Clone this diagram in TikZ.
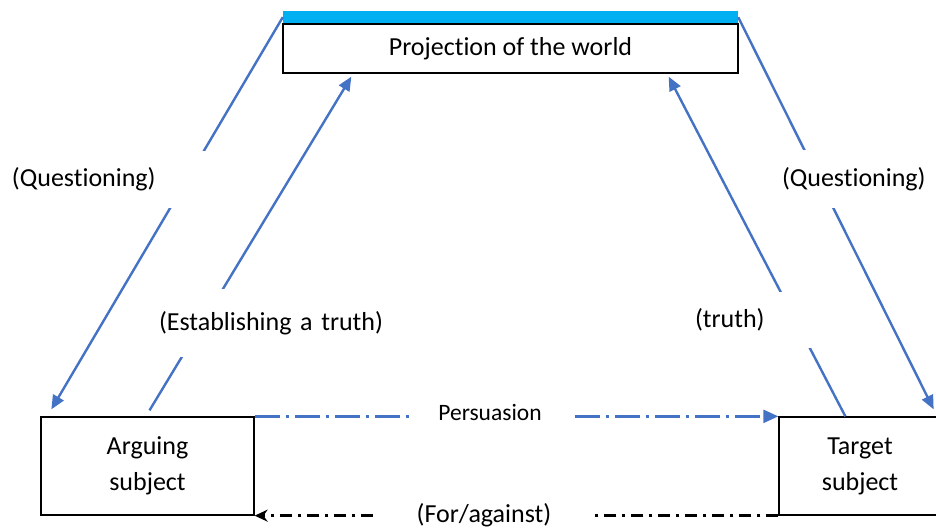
\documentclass[tikz,border=0pt]{standalone}
\usepackage{fontspec}
\setmainfont{Carlito}[Ligatures={NoCommon}]
\usetikzlibrary{arrows.meta}
\definecolor{linkblue}{RGB}{68,114,196}
\definecolor{barblue}{RGB}{0,176,240}

\begin{document}
\begin{tikzpicture}[x=1pt, y=1pt,
    every node/.style={font=\fontsize{26}{36}\selectfont},
    box/.style={draw=black, line width=1.3pt, fill=white, align=center, inner sep=0pt},
    link/.style={draw=linkblue, line width=2.4pt, -{Triangle[length=14pt, width=12pt]}},
    lbl/.style={fill=white, inner sep=4pt, align=left}]
  \useasboundingbox (0,0) rectangle (936,528);
  \fill[white] (0,0) rectangle (936,528);

  % the three boxes
  \node[box, minimum width=455pt, minimum height=49pt] (world) at (510.5,479.5) {Projection of the world};
  \node[fill=barblue, inner sep=0pt, minimum width=455pt, minimum height=12pt, anchor=south] (bar) at (world.north) {};
  \node[box, minimum width=213pt, minimum height=98pt] (arg) at (147.5,62) {Arguing\\subject};
  \node[box, minimum width=162pt, minimum height=98pt] (tgt) at (860,62) {Target\\subject};

  % links to and from the world
  \draw[link] (bar.west) -- ([shift={(11,7)}]arg.north west);
  \draw[link] ([shift={(2,6)}]arg.north) -- ([shift={(69,-3)}]world.south west);
  \draw[link] ([shift={(67,0)}]tgt.north west) -- ([shift={(-70,-3)}]world.south east);
  \draw[link] (bar.east) -- ([shift={(-8,7)}]tgt.north east);

  % links between the subjects
  \draw[linkblue, line width=2.4pt, dash pattern=on 25pt off 6pt on 3pt off 6pt,
        -{Triangle[length=15pt, width=13pt]}] (arg.north east) -- (tgt.north west);
  \draw[black, line width=2.4pt, dash pattern=on 12pt off 6pt on 3pt off 6pt,
        -{Stealth[length=13pt, width=12pt]}] (tgt.south west) -- (arg.south east);

  % labels
  \node[lbl, text width=199pt, minimum height=57pt] (qleft) at (111.5,348.5) {(Questioning)};
  \node[lbl, text width=164pt, minimum height=58pt] (qright) at (864,349) {(Questioning)};
  \node[lbl, text width=232pt, minimum height=68pt] (estab) at (275,205) {(Establishing a truth)};
  \node[lbl, text width=141pt, minimum height=56pt] (truth) at (765.5,208) {(truth)};
  \node[lbl, font=\fontsize{23.5}{28}\selectfont, align=center, minimum width=158pt, minimum height=28pt] (pers) at (490,116) {Persuasion};
  \node[lbl, align=center, minimum width=215pt, minimum height=26pt] (vote) at (484,13) {(For/against)};
\end{tikzpicture}
\end{document}
